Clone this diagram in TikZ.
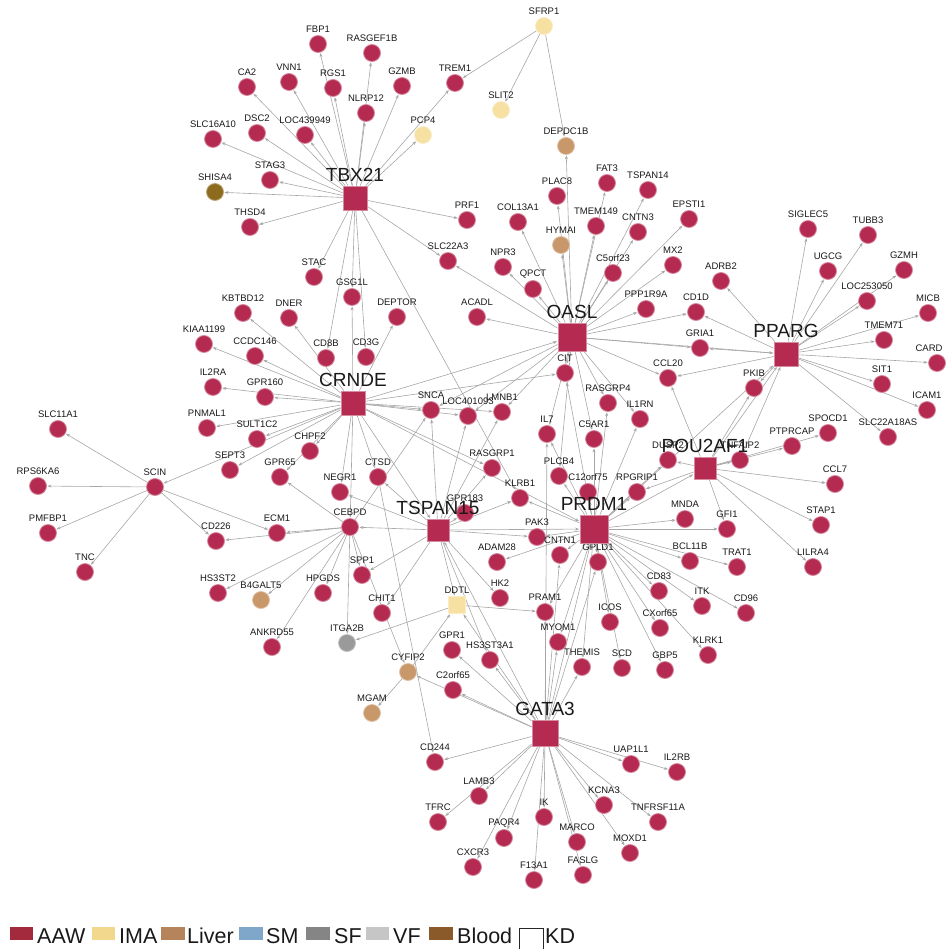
\documentclass[tikz,border=0pt]{standalone}
\usepackage{fontspec}
\setmainfont{Liberation Sans}
\usetikzlibrary{arrows.meta,backgrounds}
\definecolor{aawc}{HTML}{B52A50}
\definecolor{imac}{HTML}{F6E0A2}
\definecolor{liverc}{HTML}{C8976A}
\definecolor{sfc}{HTML}{9A9A9A}
\definecolor{bloodc}{HTML}{8C6A1E}
\definecolor{edgec}{HTML}{A6A6A6}
\definecolor{legaaw}{HTML}{A32A3C}
\definecolor{legima}{HTML}{F2D88C}
\definecolor{legliver}{HTML}{B5845A}
\definecolor{legsm}{HTML}{7FA7CA}
\definecolor{legsf}{HTML}{858585}
\definecolor{legvf}{HTML}{C6C6C6}
\definecolor{legblood}{HTML}{8A5A2A}
\newcommand\gn[4]{\node[#1,label={[lbl]above:#4}] (#2) at (#3) {};}
\newcommand\hb[4]{\node[hub,minimum size=#4,label={[hlbl]above:#1}] (#1) at (#2,#3) {};}
\begin{document}
\begin{tikzpicture}[x=1pt,y=-1pt,
  base/.style={circle,minimum size=17pt,inner sep=0pt,line width=0.8pt},
  aaw/.style={base,fill=aawc,draw=aawc!55!white},
  ima/.style={base,fill=imac,draw=imac!60!white},
  liver/.style={base,fill=liverc,draw=liverc!60!white},
  sfn/.style={base,fill=sfc,draw=sfc!60!white},
  blood/.style={base,fill=bloodc,draw=bloodc!60!white},
  imasq/.style={rectangle,minimum size=17pt,inner sep=0pt,fill=imac,draw=imac!60!white,line width=0.8pt},
  hub/.style={rectangle,inner sep=0pt,fill=aawc,draw=aawc!55!white,line width=0.8pt},
  lbl/.style={font=\fontsize{9.5}{10}\selectfont,text=black!90,inner sep=0.5pt,label distance=1.5pt},
  hlbl/.style={font=\fontsize{19}{19}\selectfont,text=black!90,inner sep=0pt,label distance=4pt},
  ed/.style={draw=edgec,line width=0.6pt,-{Stealth[length=4pt,width=3pt]},shorten >=0.5pt},
  legt/.style={anchor=base west,font=\fontsize{21.5}{22}\selectfont,inner sep=0pt,text=black!90}
]
\useasboundingbox (0,0) rectangle (945,949);
% ---------- TBX21 cluster
\gn{aaw}{FBP1}{318,44}{FBP1}
\gn{aaw}{RASGEF1B}{372,53}{RASGEF1B}
\gn{aaw}{VNN1}{289,82}{VNN1}
\gn{aaw}{CA2}{247,87}{CA2}
\gn{aaw}{RGS1}{333,88}{RGS1}
\gn{aaw}{GZMB}{402,86}{GZMB}
\gn{aaw}{TREM1}{455,83}{TREM1}
\gn{aaw}{NLRP12}{366,113}{NLRP12}
\gn{aaw}{LOC439949}{305,135}{LOC439949}
\gn{aaw}{DSC2}{257,133}{DSC2}
\gn{aaw}{SLC16A10}{213,139}{SLC16A10}
\gn{ima}{PCP4}{423,135}{PCP4}
\gn{aaw}{STAG3}{270,180}{STAG3}
\gn{blood}{SHISA4}{215,192}{SHISA4}
\gn{aaw}{THSD4}{250,227}{THSD4}
\gn{aaw}{PRF1}{467,220}{PRF1}
\gn{aaw}{SLC22A3}{448,261}{SLC22A3}
\gn{ima}{SFRP1}{544,26}{SFRP1}
\gn{ima}{SLIT2}{501,110}{SLIT2}
\gn{liver}{DEPDC1B}{566,146}{DEPDC1B}
% ---------- OASL cluster
\gn{aaw}{PLAC8}{557,196}{PLAC8}
\gn{aaw}{FAT3}{607,183}{FAT3}
\gn{aaw}{TSPAN14}{648,190}{TSPAN14}
\gn{aaw}{COL13A1}{518,222}{COL13A1}
\gn{aaw}{TMEM149}{596,226}{TMEM149}
\gn{liver}{HYMAI}{561,245}{HYMAI}
\gn{aaw}{CNTN3}{638,232}{CNTN3}
\gn{aaw}{EPSTI1}{689,219}{EPSTI1}
\gn{aaw}{NPR3}{503,267}{NPR3}
\gn{aaw}{QPCT}{533,289}{QPCT}
\gn{aaw}{C5orf23}{613,273}{C5orf23}
\gn{aaw}{MX2}{673,265}{MX2}
\gn{aaw}{ACADL}{477,317}{ACADL}
\gn{aaw}{PPP1R9A}{646,309}{PPP1R9A}
\gn{aaw}{ADRB2}{721,281}{ADRB2}
\gn{aaw}{CD1D}{696,312}{CD1D}
\gn{aaw}{GRIA1}{700,348}{GRIA1}
\gn{aaw}{CIT}{565,373}{CIT}
\gn{aaw}{CCL20}{668,378}{CCL20}
\gn{aaw}{RASGRP4}{608,403}{RASGRP4}
\gn{aaw}{IL1RN}{640,419}{IL1RN}
\gn{aaw}{IL7}{547,434}{IL7}
\gn{aaw}{C5AR1}{594,439}{C5AR1}
\gn{aaw}{PLCB4}{559,476}{PLCB4}
\gn{aaw}{SNCA}{431,410}{SNCA}
\gn{aaw}{LOC401093}{468,416}{LOC401093}
\gn{aaw}{LMNB1}{502,412}{LMNB1}
% ---------- PPARG cluster
\gn{aaw}{SIGLEC5}{808,229}{SIGLEC5}
\gn{aaw}{TUBB3}{868,235}{TUBB3}
\gn{aaw}{UGCG}{828,271}{UGCG}
\gn{aaw}{GZMH}{904,270}{GZMH}
\gn{aaw}{LOC253050}{867,301}{LOC253050}
\gn{aaw}{MICB}{928,313}{MICB}
\gn{aaw}{TMEM71}{884,340}{TMEM71}
\node[aaw,label={[lbl,xshift=-8pt]above:CARD}] (CARD) at (937,363) {};
\gn{aaw}{SIT1}{882,384}{SIT1}
\gn{aaw}{ICAM1}{927,410}{ICAM1}
\gn{aaw}{SLC22A18AS}{888,437}{SLC22A18AS}
\gn{aaw}{PKIB}{754,388}{PKIB}
\gn{aaw}{SPOCD1}{828,433}{SPOCD1}
\gn{aaw}{PTPRCAP}{792,446}{PTPRCAP}
% ---------- POU2AF1 cluster
\gn{aaw}{DUSP2}{668,460}{DUSP2}
\gn{aaw}{TNFAIP2}{740,460}{TNFAIP2}
\gn{aaw}{CCL7}{835,484}{CCL7}
\gn{aaw}{STAP1}{821,525}{STAP1}
\gn{aaw}{LILRA4}{813,567}{LILRA4}
\gn{aaw}{GFI1}{727,529}{GFI1}
\gn{aaw}{MNDA}{685,519}{MNDA}
\gn{aaw}{TRAT1}{737,567}{TRAT1}
\gn{aaw}{BCL11B}{690,561}{BCL11B}
\gn{aaw}{CD83}{659,591}{CD83}
\gn{aaw}{ITK}{702,606}{ITK}
\gn{aaw}{CD96}{746,613}{CD96}
\gn{aaw}{CXorf65}{660,628}{CXorf65}
\gn{aaw}{KLRK1}{708,655}{KLRK1}
\gn{aaw}{GBP5}{665,670}{GBP5}
\gn{aaw}{RPGRIP1}{637,492}{RPGRIP1}
% ---------- PRDM1 cluster
\gn{aaw}{C12orf75}{588,492}{C12orf75}
\gn{aaw}{KLRB1}{520,498}{KLRB1}
\gn{aaw}{RASGRP1}{492,468}{RASGRP1}
\gn{aaw}{PAK3}{537,537}{PAK3}
\gn{aaw}{ADAM28}{497,562}{ADAM28}
\gn{aaw}{CNTN1}{560,555}{CNTN1}
\gn{aaw}{GPLD1}{598,562}{GPLD1}
\gn{aaw}{PRAM1}{545,612}{PRAM1}
\gn{aaw}{MYOM1}{558,642}{MYOM1}
\gn{aaw}{ICOS}{610,622}{ICOS}
\gn{aaw}{THEMIS}{582,667}{THEMIS}
\gn{aaw}{SCD}{622,668}{SCD}
% ---------- TSPAN15 cluster
\gn{aaw}{CTSD}{378,477}{CTSD}
\gn{aaw}{NEGR1}{340,492}{NEGR1}
\gn{aaw}{CEBPD}{350,527}{CEBPD}
\gn{aaw}{GPR183}{465,513}{GPR183}
\gn{aaw}{SPP1}{362,575}{SPP1}
\gn{aaw}{HPGDS}{323,593}{HPGDS}
\gn{aaw}{HK2}{500,598}{HK2}
\node[imasq,label={[lbl]above:DDTL}] (DDTL) at (457,605) {};
\gn{aaw}{CHIT1}{382,613}{CHIT1}
\gn{sfn}{ITGA2B}{347,643}{ITGA2B}
\gn{aaw}{GPR1}{452,650}{GPR1}
\gn{aaw}{HS3ST3A1}{490,660}{HS3ST3A1}
\gn{liver}{CYFIP2}{408,672}{CYFIP2}
\gn{aaw}{C2orf65}{453,690}{C2orf65}
\gn{liver}{MGAM}{372,713}{MGAM}
% ---------- GATA3 cluster
\gn{aaw}{CD244}{435,762}{CD244}
\gn{aaw}{LAMB3}{479,796}{LAMB3}
\gn{aaw}{TFRC}{438,822}{TFRC}
\gn{aaw}{PAQR4}{504,838}{PAQR4}
\gn{aaw}{IK}{544,817}{IK}
\gn{aaw}{MARCO}{577,842}{MARCO}
\gn{aaw}{KCNA3}{604,805}{KCNA3}
\gn{aaw}{CXCR3}{473,867}{CXCR3}
\gn{aaw}{F13A1}{534,880}{F13A1}
\gn{aaw}{FASLG}{583,875}{FASLG}
\gn{aaw}{MOXD1}{630,853}{MOXD1}
\gn{aaw}{UAP1L1}{631,764}{UAP1L1}
\gn{aaw}{IL2RB}{677,772}{IL2RB}
\gn{aaw}{TNFRSF11A}{658,822}{TNFRSF11A}
% ---------- CRNDE cluster
\gn{aaw}{STAC}{314,277}{STAC}
\gn{aaw}{GSG1L}{352,297}{GSG1L}
\gn{aaw}{DEPTOR}{397,317}{DEPTOR}
\gn{aaw}{KBTBD12}{243,313}{KBTBD12}
\gn{aaw}{DNER}{289,318}{DNER}
\gn{aaw}{CD8B}{326,358}{CD8B}
\gn{aaw}{CD3G}{366,357}{CD3G}
\gn{aaw}{KIAA1199}{204,344}{KIAA1199}
\gn{aaw}{CCDC146}{255,356}{CCDC146}
\gn{aaw}{IL2RA}{213,387}{IL2RA}
\gn{aaw}{GPR160}{265,397}{GPR160}
\gn{aaw}{PNMAL1}{207,428}{PNMAL1}
\gn{aaw}{SULT1C2}{257,439}{SULT1C2}
\gn{aaw}{CHPF2}{310,451}{CHPF2}
\gn{aaw}{SEPT3}{230,470}{SEPT3}
\gn{aaw}{GPR65}{280,477}{GPR65}
% ---------- SCIN cluster
\gn{aaw}{SCIN}{155,487}{SCIN}
\gn{aaw}{SLC11A1}{58,429}{SLC11A1}
\gn{aaw}{RPS6KA6}{38,486}{RPS6KA6}
\gn{aaw}{PMFBP1}{48,533}{PMFBP1}
\gn{aaw}{TNC}{85,572}{TNC}
\gn{aaw}{CD226}{216,541}{CD226}
\gn{aaw}{ECM1}{277,533}{ECM1}
\gn{aaw}{HS3ST2}{218,593}{HS3ST2}
\gn{liver}{B4GALT5}{261,600}{B4GALT5}
\gn{aaw}{ANKRD55}{272,647}{ANKRD55}
% ---------- hubs
\hb{TBX21}{355}{198}{24pt}
\hb{OASL}{572}{337}{28pt}
\hb{PPARG}{786}{354}{24pt}
\hb{CRNDE}{353}{403}{24pt}
\hb{POU2AF1}{705}{468}{22pt}
\hb{PRDM1}{594}{529}{28pt}
\hb{TSPAN15}{438}{530}{22pt}
\hb{GATA3}{545}{733}{26pt}
% ---------- edges
\begin{scope}[on background layer]
\foreach \s/\t in {TBX21/FBP1,TBX21/RASGEF1B,TBX21/VNN1,TBX21/CA2,TBX21/RGS1,TBX21/GZMB,TBX21/NLRP12,TBX21/LOC439949,TBX21/DSC2,TBX21/SLC16A10,TBX21/STAG3,TBX21/SHISA4,TBX21/THSD4,TBX21/PCP4,TBX21/TREM1,TBX21/PRF1,TBX21/SLC22A3,TBX21/STAC,TBX21/GSG1L,TBX21/CD8B,TBX21/CD3G,TBX21/KLRB1,
SFRP1/TREM1,SFRP1/SLIT2,SFRP1/DEPDC1B,
OASL/PLAC8,OASL/FAT3,OASL/TSPAN14,OASL/COL13A1,OASL/TMEM149,OASL/HYMAI,OASL/DEPDC1B,OASL/CNTN3,OASL/EPSTI1,OASL/NPR3,OASL/QPCT,OASL/C5orf23,OASL/MX2,OASL/ACADL,OASL/PPP1R9A,OASL/CD1D,OASL/GRIA1,OASL/CIT,OASL/CCL20,OASL/RASGRP4,OASL/IL1RN,OASL/IL7,OASL/C5AR1,OASL/PLCB4,OASL/SLC22A3,OASL/PPARG,OASL/LOC401093,OASL/LMNB1,OASL/SNCA,
PPARG/SIGLEC5,PPARG/TUBB3,PPARG/UGCG,PPARG/GZMH,PPARG/LOC253050,PPARG/MICB,PPARG/TMEM71,PPARG/CARD,PPARG/SIT1,PPARG/ICAM1,PPARG/SLC22A18AS,PPARG/PKIB,PPARG/ADRB2,PPARG/CD1D,PPARG/GRIA1,PPARG/CCL20,
POU2AF1/PPARG,PRDM1/PPARG,TNFAIP2/PPARG,POU2AF1/PKIB,POU2AF1/CCL20,POU2AF1/CCL7,POU2AF1/STAP1,POU2AF1/LILRA4,POU2AF1/GFI1,POU2AF1/DUSP2,POU2AF1/TNFAIP2,POU2AF1/PTPRCAP,POU2AF1/SPOCD1,POU2AF1/RPGRIP1,
PRDM1/POU2AF1,PRDM1/MNDA,PRDM1/GFI1,PRDM1/BCL11B,PRDM1/TRAT1,PRDM1/CD83,PRDM1/ITK,PRDM1/CD96,PRDM1/CXorf65,PRDM1/KLRK1,PRDM1/GBP5,PRDM1/SCD,PRDM1/ICOS,PRDM1/THEMIS,PRDM1/MYOM1,PRDM1/GPLD1,PRDM1/CNTN1,PRDM1/PAK3,PRDM1/ADAM28,PRDM1/C12orf75,PRDM1/RPGRIP1,PRDM1/PLCB4,PRDM1/KLRB1,PRDM1/C5AR1,PRDM1/RASGRP4,PRDM1/IL1RN,PRDM1/CIT,PRDM1/IL7,PRDM1/PRAM1,PRDM1/DUSP2,
GATA3/CD244,GATA3/LAMB3,GATA3/TFRC,GATA3/PAQR4,GATA3/IK,GATA3/MARCO,GATA3/KCNA3,GATA3/CXCR3,GATA3/F13A1,GATA3/FASLG,GATA3/MOXD1,GATA3/UAP1L1,GATA3/TNFRSF11A,GATA3/IL2RB,GATA3/C2orf65,GATA3/CYFIP2,GATA3/GPR1,GATA3/HS3ST3A1,GATA3/PRDM1,GATA3/CNTN1,GATA3/PRAM1,GATA3/MYOM1,GATA3/THEMIS,GATA3/GPLD1,GATA3/IL7,GATA3/TSPAN15,GATA3/DDTL,
TSPAN15/GPR183,TSPAN15/CEBPD,TSPAN15/SPP1,TSPAN15/CHIT1,TSPAN15/DDTL,TSPAN15/HK2,TSPAN15/HS3ST3A1,TSPAN15/NEGR1,TSPAN15/CTSD,TSPAN15/SNCA,TSPAN15/KLRB1,TSPAN15/RASGRP1,TSPAN15/PAK3,TSPAN15/PRDM1,TSPAN15/LOC401093,TSPAN15/LMNB1,
DDTL/ITGA2B,DDTL/PRAM1,CYFIP2/DDTL,CYFIP2/MGAM,
CEBPD/ECM1,CEBPD/CD226,CEBPD/HS3ST2,CEBPD/B4GALT5,CEBPD/HPGDS,CEBPD/ANKRD55,CEBPD/ITGA2B,CEBPD/GPR65,CEBPD/SPP1,CEBPD/CYFIP2,CEBPD/SNCA,CTSD/CD244,
CRNDE/GSG1L,CRNDE/DEPTOR,CRNDE/KBTBD12,CRNDE/DNER,CRNDE/KIAA1199,CRNDE/CCDC146,CRNDE/IL2RA,CRNDE/GPR160,CRNDE/PNMAL1,CRNDE/SULT1C2,CRNDE/CHPF2,CRNDE/SEPT3,CRNDE/GPR65,CRNDE/SCIN,CRNDE/SNCA,CRNDE/LOC401093,CRNDE/LMNB1,CRNDE/OASL,CRNDE/CIT,CRNDE/NEGR1,CRNDE/CTSD,CRNDE/TSPAN15,CRNDE/PRDM1,CRNDE/CEBPD,CRNDE/RASGRP1,
SCIN/SLC11A1,SCIN/RPS6KA6,SCIN/PMFBP1,SCIN/TNC,SCIN/CD226,SCIN/ECM1}
  \draw[ed] (\s) -- (\t);
\end{scope}
% ---------- legend
\fill[legaaw] (10,927) rectangle (33,940);
\node[legt] (lAAW) at (37,943) {AAW};
\fill[legima] (92,927) rectangle (115,940);
\node[legt] (lIMA) at (119,943) {IMA};
\fill[legliver] (161,927) rectangle (185,940);
\node[legt] (lLiver) at (187,943) {Liver};
\fill[legsm] (239,927) rectangle (263,940);
\node[legt] (lSM) at (266,943) {SM};
\fill[legsf] (306,927) rectangle (330,940);
\node[legt] (lSF) at (334,943) {SF};
\fill[legvf] (366,927) rectangle (389,940);
\node[legt] (lVF) at (393,943) {VF};
\fill[legblood] (429,927) rectangle (453,940);
\node[legt] (lBlood) at (457,943) {Blood};
\draw[line width=1pt,black!85] (519,949) -- (519,928) -- (543,928) -- (543,949);
\node[legt] (lKD) at (545,943) {KD};
\end{tikzpicture}
\end{document}
